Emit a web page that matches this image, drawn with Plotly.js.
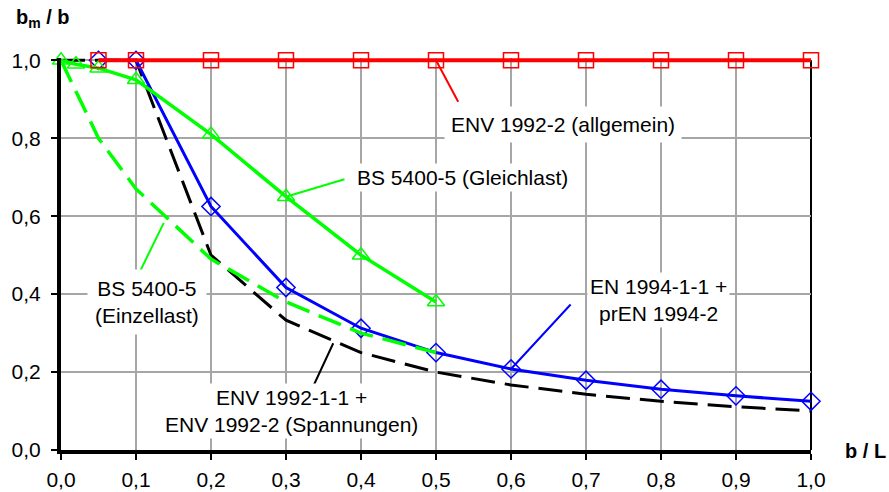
<!DOCTYPE html>
<html>
<head>
<meta charset="utf-8">
<script src="https://cdn.plot.ly/plotly-3.0.1.min.js"></script>
<style>html,body{margin:0;padding:0;background:#fff;}#chart{width:889px;height:492px;}</style>
</head>
<body>
<div id="chart"></div>
<script>
// b/L values and b_m/b ratios
const xTicks = [0, 0.1, 0.2, 0.3, 0.4, 0.5, 0.6, 0.7, 0.8, 0.9, 1.0];
const yTicks = [0, 0.2, 0.4, 0.6, 0.8, 1.0];

const envAllgX = [0.05, 0.1, 0.2, 0.3, 0.4, 0.5, 0.6, 0.7, 0.8, 0.9, 1.0];
const envAllgY = [1.0, 1.0, 1.0, 1.0, 1.0, 1.0, 1.0, 1.0, 1.0, 1.0, 1.0];

const en1994X = [0.05, 0.1, 0.2, 0.3, 0.4, 0.5, 0.6, 0.7, 0.8, 0.9, 1.0];
const en1994Y = [1.0, 1.0, 0.625, 0.417, 0.3125, 0.25, 0.208, 0.179, 0.156, 0.139, 0.125];

const env1992X = [0, 0.05, 0.1, 0.2, 0.3, 0.4, 0.5, 0.6, 0.7, 0.8, 0.9, 1.0];
const env1992Y = [1.0, 1.0, 1.0, 0.5, 0.333, 0.25, 0.2, 0.167, 0.143, 0.125, 0.111, 0.1];

const bsGleichX = [0, 0.02, 0.05, 0.1, 0.2, 0.3, 0.4, 0.5];
const bsGleichY = [1.0, 0.99, 0.98, 0.95, 0.81, 0.65, 0.50, 0.38];

const bsEinzelX = [0, 0.02, 0.05, 0.1, 0.2, 0.3, 0.4, 0.5];
const bsEinzelY = [1.0, 0.92, 0.80, 0.67, 0.49, 0.38, 0.30, 0.25];

const labels = {
  allg: 'ENV 1992-2 (allgemein)',
  gleich: 'BS 5400-5 (Gleichlast)',
  einzel: 'BS 5400-5<br>(Einzellast)',
  env: 'ENV 1992-1-1 +<br>ENV 1992-2 (Spannungen)',
  en: 'EN 1994-1-1 +<br>prEN 1994-2'
};

const RED = '#ff0000', BLUE = '#0000ff', GREEN = '#00ff00', BLACK = '#000000';
const FONT = 'Liberation Sans, Arial, sans-serif';

const traces = [
  {x: env1992X, y: env1992Y, mode: 'lines', line: {color: BLACK, width: 3, dash: '24px,10px'}, cliponaxis: false},
  {x: en1994X, y: en1994Y, mode: 'lines+markers', line: {color: BLUE, width: 3},
   marker: {symbol: 'diamond-open', size: 14, color: BLUE, line: {width: 1.5, color: BLUE}}, cliponaxis: false},
  {x: bsEinzelX, y: bsEinzelY, mode: 'lines', line: {color: GREEN, width: 3.5, dash: '24px,10px'}, cliponaxis: false},
  {x: bsGleichX, y: bsGleichY, mode: 'lines+markers', line: {color: GREEN, width: 3.5},
   marker: {symbol: 'triangle-up-open', size: 15, color: GREEN, line: {width: 1.5, color: GREEN}}, cliponaxis: false},
  {x: envAllgX, y: envAllgY, mode: 'lines+markers', line: {color: RED, width: 4},
   marker: {symbol: 'square-open', size: 15, color: RED, line: {width: 1.5, color: RED}}, cliponaxis: false}
];

function leader(x, y, ax, ay, color, w) {
  return {x: x, y: y, xref: 'x', yref: 'y', text: '', showarrow: true, arrowhead: 0,
          arrowwidth: w, arrowcolor: color, ax: ax, ay: ay, standoff: 0, startstandoff: 0};
}
function label(text, x, y, xanchor, pad) {
  return {x: x, y: y, xref: 'x', yref: 'y', text: text, showarrow: false, xanchor: xanchor, yanchor: 'middle',
          bgcolor: '#ffffff', borderpad: pad, font: {family: FONT, size: 21, color: '#000'}, align: 'center'};
}

const annotations = [
  leader(envAllgX[5], envAllgY[5], 23, 43, RED, 2),
  leader(bsGleichX[5], bsGleichY[5], 60, -18, GREEN, 2),
  leader(0.137, 0.583, -24, 49, GREEN, 2),
  leader(0.363, 0.274, -20, 43, BLACK, 2),
  leader(en1994X[6], en1994Y[6], 61, -66, BLUE, 2),
  label(labels.allg, 0.511, 0.835, 'left', 6),
  label(labels.gleich, 0.535, 0.70, 'center', 2),
  label(labels.einzel, 0.114, 0.38, 'center', 7),
  label(labels.env, 0.307, 0.10, 'center', 2),
  label(labels.en, 0.797, 0.385, 'center', 2),
  {x: -0.063, y: 1.10, xref: 'paper', yref: 'paper', xanchor: 'left', yanchor: 'middle', showarrow: false,
   text: '<b>b<sub>m</sub> / b</b>', font: {family: FONT, size: 20, color: '#000'}},
  {x: 1.042, y: -0.003, xref: 'paper', yref: 'paper', xanchor: 'left', yanchor: 'middle', showarrow: false,
   text: '<b>b / L</b>', font: {family: FONT, size: 20, color: '#000'}}
];

const layout = {
  width: 889, height: 492,
  margin: {l: 61, r: 78, t: 58, b: 42, pad: 0},
  paper_bgcolor: '#ffffff', plot_bgcolor: '#ffffff',
  showlegend: false,
  separators: ', ',
  font: {family: FONT, size: 21, color: '#000'},
  xaxis: {range: [0, 1.0], tickvals: xTicks, tickformat: '.1f', showgrid: true, gridcolor: '#a6a6a6', gridwidth: 2,
          zeroline: false, showline: true, linecolor: '#000', linewidth: 4, ticks: 'outside', ticklen: 6, tickwidth: 2,
          tickcolor: '#000', tickfont: {family: FONT, size: 21, color: '#000'}, ticklabelstandoff: 2, fixedrange: true},
  yaxis: {range: [0, 1.006], tickvals: yTicks, tickformat: '.1f', showgrid: true, gridcolor: '#a6a6a6', gridwidth: 2,
          zeroline: false, showline: true, linecolor: '#000', linewidth: 4, ticks: 'outside', ticklen: 6, tickwidth: 2,
          tickcolor: '#000', tickfont: {family: FONT, size: 21, color: '#000'}, ticklabelstandoff: 6, fixedrange: true},
  shapes: [
    {type: 'line', xref: 'paper', yref: 'y', x0: 1, x1: 1, y0: 0, y1: 1.0, line: {color: '#000', width: 2}, layer: 'below'}
  ],
  annotations: annotations
};

Plotly.newPlot('chart', traces, layout, {displayModeBar: false, staticPlot: true});
</script>
</body>
</html>
